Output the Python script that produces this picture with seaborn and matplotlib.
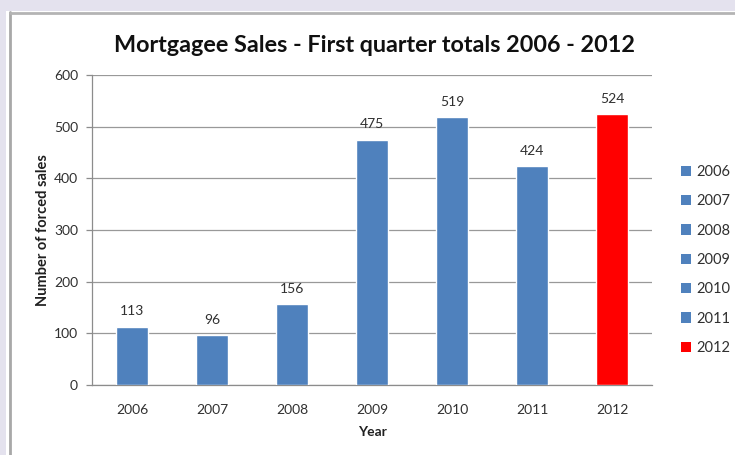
import matplotlib
matplotlib.use("Agg")
import matplotlib.pyplot as plt
import seaborn as sns
import pandas as pd
from matplotlib.patches import Rectangle, Patch
from matplotlib.lines import Line2D

# Forced mortgagee sales, first quarter of each year
years = ["2006", "2007", "2008", "2009", "2010", "2011", "2012"]
sales = [113, 96, 156, 475, 519, 424, 524]
bar_colors = ["#4f81bd", "#4f81bd", "#4f81bd", "#4f81bd", "#4f81bd", "#4f81bd", "#ff0000"]
y_ticks = [0, 100, 200, 300, 400, 500, 600]

df = pd.DataFrame({"Year": years, "Sales": sales})

sns.set_theme(style="white")
plt.rcParams["font.family"] = ["Lato", "DejaVu Sans"]

W, H = 735, 455
fig = plt.figure(figsize=(W / 100, H / 100), dpi=100, facecolor="#e4e2ee")

# White chart panel with a grey border on the top and left edges
fig.patches.append(Rectangle((6 / W, 0), 1, 1 - 11 / H, transform=fig.transFigure,
                             facecolor="white", edgecolor="none", zorder=-2))
fig.lines.append(Line2D([9.5 / W, 9.5 / W], [0, 1 - 12 / H], transform=fig.transFigure,
                        color="#a8a8a8", lw=2, zorder=-1))
fig.lines.append(Line2D([9.5 / W, 1], [1 - 12.5 / H, 1 - 12.5 / H], transform=fig.transFigure,
                        color="#b4b4b4", lw=2, zorder=-1))

ax = fig.add_axes([92 / W, 1 - 385 / H, (652 - 92) / W, (385 - 75) / H])
ax.set_zorder(2)
ax.set_facecolor("white")

palette = dict(zip(years, bar_colors))
sns.barplot(data=df, x="Year", y="Sales", hue="Year", palette=palette, width=0.41,
            saturation=1, legend=False, ax=ax, zorder=3)

ax.set_ylim(0, 600)
ax.set_yticks(y_ticks)
ax.set_xlim(-0.5, len(years) - 0.5)
ax.yaxis.grid(True, color="#999999", lw=0.9)
ax.set_axisbelow(True)

for s in ["top", "right"]:
    ax.spines[s].set_visible(False)
ax.spines["left"].set_color("#8c8c8c")
ax.spines["bottom"].set_color("#8c8c8c")
ax.spines["left"].set_linewidth(0.9)
ax.spines["bottom"].set_linewidth(0.9)

ax.tick_params(axis="y", which="major", left=True, length=4, width=0.9, color="#8c8c8c",
               labelsize=10, labelcolor="#303030", pad=6)
ax.tick_params(axis="x", which="major", bottom=False, labelsize=10, labelcolor="#303030", pad=8)

ax.set_xlabel("Year", fontsize=10, fontweight="bold", color="#202020", labelpad=7)
ax.set_ylabel("Number of forced sales", fontsize=10.5, fontweight="bold", color="#202020", labelpad=3)

for i, v in enumerate(sales):
    ax.annotate(str(v), (i, v), xytext=(0, 11), textcoords="offset points",
                ha="center", va="center", fontsize=10, color="#303030")

fig.text(375 / W, 1 - 45 / H, "Mortgagee Sales - First quarter totals 2006 - 2012",
         ha="center", va="center", fontsize=16.8, fontweight="bold", color="#101010")

handles = [Patch(facecolor=c, edgecolor="none") for c in bar_colors]
leg = fig.legend(handles, years, loc="center left", bbox_to_anchor=(668 / W, 1 - 260 / H),
                 frameon=False, fontsize=10.5, handlelength=0.7, handleheight=0.7,
                 handletextpad=0.35, labelspacing=1.05)
for t in leg.get_texts():
    t.set_color("#303030")

fig.savefig("out.png", dpi=100, facecolor=fig.get_facecolor())
